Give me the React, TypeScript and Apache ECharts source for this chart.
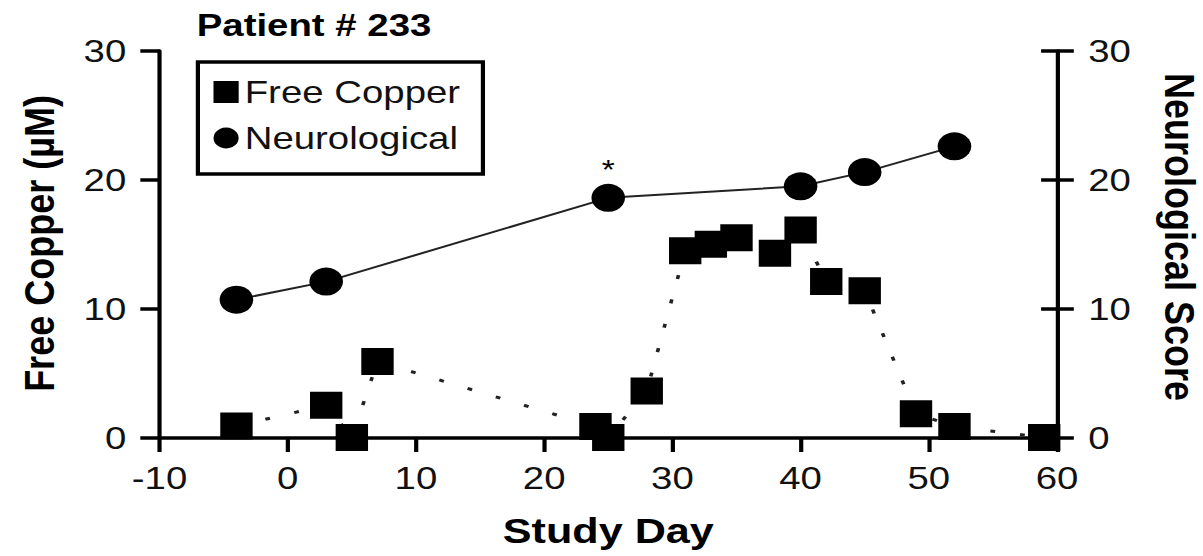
import React, { useEffect, useRef } from 'react';
import * as echarts from 'echarts';

// ---- data ----
const copperDays = [-4, 3, 5, 7, 24, 25, 28, 31, 33, 35, 38, 40, 42, 45, 49, 52, 59];
const copperValues = [0.9, 2.5, 0, 5.9, 0.85, 0, 3.6, 14.5, 15.0, 15.5, 14.3, 16.1, 12.1, 11.4, 1.85, 0.85, 0];
const neuroDays = [-4, 3, 25, 40, 45, 52];
const neuroValues = [10.7, 12.1, 18.6, 19.5, 20.6, 22.6];
const markedDay = 25; // asterisk above this neurological point
const xRange = [-10, 60];
const xStep = 10;
const yRange = [0, 30];
const yStep = 10;

const titleText = 'Patient # 233';
const leftTitle = 'Free Copper (µM)';
const rightTitle = 'Neurological Score';
const xTitle = 'Study Day';
const copperName = 'Free Copper';
const neuroName = 'Neurological';

const FONT = '"Liberation Sans", Arial, Helvetica, sans-serif';
const W = 1003;
const H = 556;
const SX = 1203 / W;

export default function App() {
  const ref = useRef<HTMLDivElement | null>(null);

  useEffect(() => {
    if (!ref.current) return;
    const chart = echarts.init(ref.current, undefined, { renderer: 'svg' });

    const axisLine = { show: true, onZero: false, lineStyle: { color: '#000', width: 3.5 } };
    const labelStyle = { fontFamily: FONT, fontSize: 32, color: '#111' };

    const option: any = {
      animation: false,
      backgroundColor: '#fff',
      title: {
        text: titleText,
        left: 164,
        top: 9,
        padding: 0,
        textStyle: { fontFamily: FONT, fontSize: 32, fontWeight: 'bold', color: '#000' },
      },
      legend: {
        orient: 'vertical',
        left: 165,
        top: 62,
        padding: [14, 19, 20, 13],
        itemGap: 14,
        itemWidth: 21,
        itemHeight: 22,
        borderColor: '#000',
        borderWidth: 3.5,
        backgroundColor: '#fff',
        selectedMode: false,
        textStyle: { fontFamily: FONT, fontSize: 32, color: '#111', lineHeight: 32 },
        data: [
          { name: copperName, icon: 'rect', itemStyle: { color: '#000' } },
          { name: neuroName, icon: 'circle', itemStyle: { color: '#000' } },
        ],
      },
      grid: { left: 133, right: 121.7, top: 51, bottom: 118.5, containLabel: false },
      xAxis: {
        type: 'value',
        min: xRange[0],
        max: xRange[1],
        interval: xStep,
        name: xTitle,
        nameLocation: 'middle',
        nameGap: 75,
        nameTextStyle: { fontFamily: FONT, fontSize: 36, fontWeight: 'bold', color: '#000' },
        axisLine,
        axisTick: { show: true, inside: false, length: 14.5, lineStyle: { color: '#000', width: 3.5 } },
        axisLabel: { ...labelStyle, margin: 24.5 },
        splitLine: { show: false },
      },
      yAxis: [
        {
          type: 'value',
          position: 'left',
          min: yRange[0],
          max: yRange[1],
          interval: yStep,
          axisLine,
          axisTick: { show: true, inside: false, length: 16, lineStyle: { color: '#000', width: 3.5 } },
          axisLabel: { ...labelStyle, margin: 27.7 },
          splitLine: { show: false },
        },
        {
          type: 'value',
          position: 'right',
          min: yRange[0],
          max: yRange[1],
          interval: yStep,
          axisLine,
          axisTick: { show: true, inside: false, length: 14, lineStyle: { color: '#000', width: 3.5 } },
          axisLabel: { ...labelStyle, margin: 26 },
          splitLine: { show: false },
        },
        {
          type: 'value',
          position: 'right',
          min: yRange[0],
          max: yRange[1],
          interval: yStep,
          axisLine: { show: false, onZero: false },
          axisTick: { show: true, inside: true, length: 13.3, lineStyle: { color: '#000', width: 3.5 } },
          axisLabel: { show: false },
          splitLine: { show: false },
        },
      ],
      graphic: [
        {
          type: 'text',
          x: 32.5,
          y: 243.5,
          rotation: Math.PI / 2,
          style: {
            text: leftTitle,
            fontFamily: FONT,
            fontSize: 36,
            fontWeight: 'bold',
            fill: '#000',
            align: 'center',
            verticalAlign: 'middle',
          },
        },
        {
          type: 'text',
          x: 984,
          y: 237,
          rotation: -Math.PI / 2,
          style: {
            text: rightTitle,
            fontFamily: FONT,
            fontSize: 36,
            fontWeight: 'bold',
            fill: '#000',
            align: 'center',
            verticalAlign: 'middle',
          },
        },
      ],
      series: [
        {
          name: copperName,
          type: 'line',
          yAxisIndex: 0,
          data: copperDays.map((d, i) => [d, copperValues[i]]),
          symbol: 'rect',
          symbolSize: 27,
          showSymbol: true,
          showAllSymbol: true,
          clip: false,
          itemStyle: { color: '#000' },
          lineStyle: { color: '#222', width: 3, type: [4, 21] },
          emphasis: { disabled: true },
          z: 3,
        },
        {
          name: neuroName,
          type: 'line',
          yAxisIndex: 1,
          data: neuroDays.map((d, i) =>
            d === markedDay
              ? {
                  value: [d, neuroValues[i]],
                  label: {
                    show: true,
                    formatter: '*',
                    position: 'top',
                    distance: 0,
                    fontFamily: FONT,
                    fontSize: 28,
                    color: '#000',
                  },
                }
              : [d, neuroValues[i]]
          ),
          symbol: 'circle',
          symbolSize: 28,
          showSymbol: true,
          showAllSymbol: true,
          clip: false,
          itemStyle: { color: '#000' },
          lineStyle: { color: '#222', width: 2, type: 'solid' },
          emphasis: { disabled: true },
          z: 3,
        },
      ],
    };

    chart.setOption(option);
    return () => {
      chart.dispose();
    };
  }, []);

  return (
    <div
      ref={ref}
      style={{
        position: 'fixed',
        left: 0,
        top: 0,
        width: W,
        height: H,
        transform: `scaleX(${SX})`,
        transformOrigin: '0 0',
        background: '#fff',
      }}
    />
  );
}
